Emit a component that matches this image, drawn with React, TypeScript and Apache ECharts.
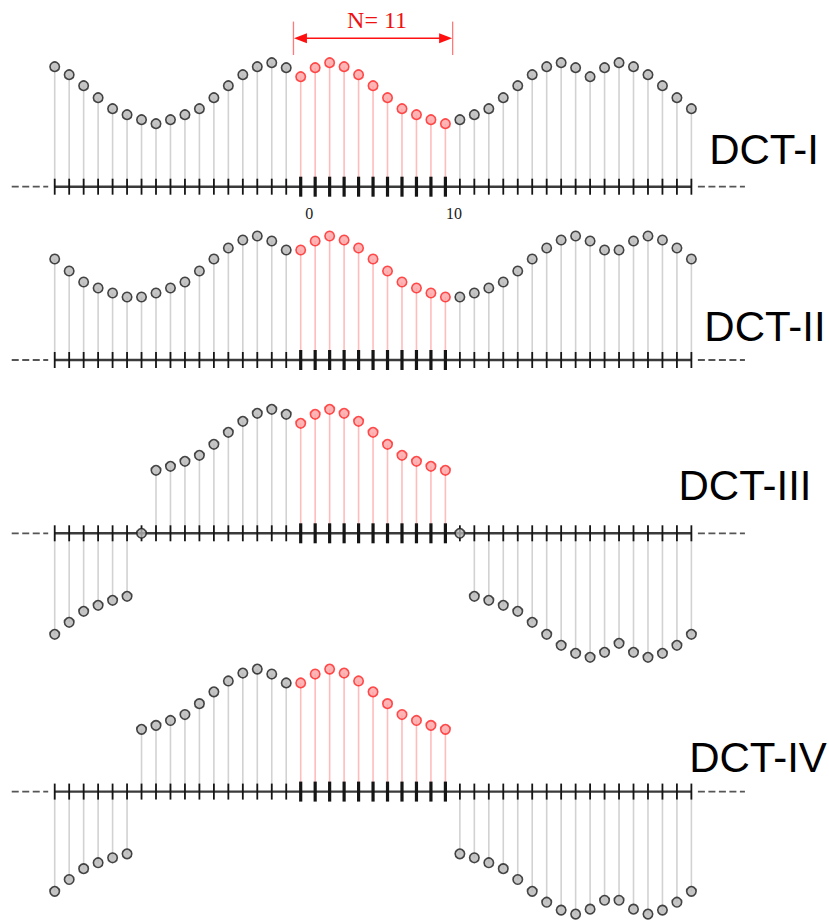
import React, { useEffect, useRef } from "react";
import * as echarts from "echarts";

// sample positions n = -17 … 27 (the original block is n = 0 … 10, N = 11)
const sampleIndex: number[] = Array.from({ length: 45 }, (_, i) => i - 17);
const blockFirst = 0;
const blockLast = 10;
const blockLength = 11;

// symmetric extensions (heights relative to each axis)
const dctI = [
  1.2, 1.12, 1.01, 0.89, 0.78, 0.72, 0.67, 0.63, 0.67, 0.72, 0.78, 0.89, 1.01, 1.12, 1.2, 1.24, 1.19,
  1.1, 1.19, 1.24, 1.2, 1.12, 1.01, 0.89, 0.78, 0.72, 0.67, 0.63,
  0.67, 0.72, 0.78, 0.89, 1.01, 1.12, 1.2, 1.24, 1.19, 1.1, 1.19, 1.24, 1.2, 1.12, 1.01, 0.89, 0.78,
];
const dctII = [
  1.01, 0.89, 0.78, 0.72, 0.67, 0.63, 0.63, 0.67, 0.72, 0.78, 0.89, 1.01, 1.12, 1.2, 1.24, 1.19, 1.1,
  1.1, 1.19, 1.24, 1.2, 1.12, 1.01, 0.89, 0.78, 0.72, 0.67, 0.63,
  0.63, 0.67, 0.72, 0.78, 0.89, 1.01, 1.12, 1.2, 1.24, 1.19, 1.1, 1.1, 1.19, 1.24, 1.2, 1.12, 1.01,
];
const dctIII = [
  -1.01, -0.89, -0.78, -0.72, -0.67, -0.63, 0, 0.63, 0.67, 0.72, 0.78, 0.89, 1.01, 1.12, 1.2, 1.24, 1.19,
  1.1, 1.19, 1.24, 1.2, 1.12, 1.01, 0.89, 0.78, 0.72, 0.67, 0.63,
  0, -0.63, -0.67, -0.72, -0.78, -0.89, -1.01, -1.12, -1.2, -1.24, -1.19, -1.1, -1.19, -1.24, -1.2, -1.12, -1.01,
];
const dctIV = [
  -1.01, -0.89, -0.78, -0.72, -0.67, -0.63, 0.63, 0.67, 0.72, 0.78, 0.89, 1.01, 1.12, 1.2, 1.24, 1.19, 1.1,
  1.1, 1.19, 1.24, 1.2, 1.12, 1.01, 0.89, 0.78, 0.72, 0.67, 0.63,
  -0.63, -0.67, -0.72, -0.78, -0.89, -1.01, -1.12, -1.2, -1.24, -1.19, -1.1, -1.1, -1.19, -1.24, -1.2, -1.12, -1.01,
];
const panelNames = ["DCT-I", "DCT-II", "DCT-III", "DCT-IV"];
const panelValues = [dctI, dctII, dctIII, dctIV];
const tickLabelValues = [0, 10];
const tickLabelTexts = ["0", "10"];

// layout (pixels)
const PX_PER_UNIT = 100;
const layouts = [
  { baseline: 186.7, min: -0.4, max: 1.7, labelX: 764, labelY: 149.5 },
  { baseline: 360, min: -0.4, max: 1.4, labelX: 765, labelY: 326.7 },
  { baseline: 533.3, min: -1.4, max: 1.4, labelX: 745, labelY: 485.5 },
  { baseline: 793.3, min: -1.3, max: 1.4, labelX: 758, labelY: 757.5 },
];
const X_MIN = -20;
const X_MAX = 31;
const GRID_LEFT = 11.3;
const GRID_WIDTH = 737.97;

const RED_STROKE = "#ff2424";
const RED_FILL = "#ffa3a3";
const RED_STEM = "#ffbcbc";
const GRAY_FILL = "#b6b6b6";
const GRAY_STROKE = "#1c1c1c";
const GRAY_STEM = "#d2d2d2";

const isBlock = (n: number) => n >= blockFirst && n <= blockLast;

function buildOption() {
  const series: any[] = [];
  panelValues.forEach((values, gi) => {
    const axisRef = { xAxisIndex: gi, yAxisIndex: gi };
    // stems
    series.push({
      type: "custom",
      ...axisRef,
      z: 1,
      silent: true,
      data: values.map((v, k) => [sampleIndex[k], v, isBlock(sampleIndex[k]) ? 1 : 0]),
      renderItem: (_p: any, api: any) => {
        const n = api.value(0);
        const v = api.value(1);
        const p0 = api.coord([n, 0]);
        const p1 = api.coord([n, v]);
        return {
          type: "line",
          shape: { x1: p0[0], y1: p0[1], x2: p1[0], y2: p1[1] },
          style: { stroke: api.value(2) ? RED_STEM : GRAY_STEM, lineWidth: 1.6 },
        };
      },
    });
    // dashed continuation
    series.push({
      type: "line",
      ...axisRef,
      z: 2,
      silent: true,
      symbol: "none",
      data: [[-19.97, 0], [-17.45, 0]],
      lineStyle: { color: "#555", width: 1.8, type: [7, 3.5] },
    });
    series.push({
      type: "line",
      ...axisRef,
      z: 2,
      silent: true,
      symbol: "none",
      data: [[27.45, 0], [30.7, 0]],
      lineStyle: { color: "#555", width: 1.8, type: [7, 3.5] },
    });
    // solid axis
    series.push({
      type: "line",
      ...axisRef,
      z: 2,
      silent: true,
      symbol: "none",
      data: [[sampleIndex[0], 0], [sampleIndex[sampleIndex.length - 1], 0]],
      lineStyle: { color: "#3a3a3a", width: 2.4 },
    });
    // ticks
    series.push({
      type: "custom",
      ...axisRef,
      z: 3,
      silent: true,
      data: sampleIndex.map((n) => [n, isBlock(n) ? 1 : 0]),
      renderItem: (_p: any, api: any) => {
        const p = api.coord([api.value(0), 0]);
        const bold = api.value(1) === 1;
        const h = bold ? 10 : 8;
        const w = bold ? 3.2 : 1.8;
        return {
          type: "rect",
          shape: { x: p[0] - w / 2, y: p[1] - h, width: w, height: 2 * h },
          style: { fill: "#151515" },
        };
      },
    });
    // sample markers
    series.push({
      type: "scatter",
      ...axisRef,
      z: 4,
      silent: true,
      symbol: "circle",
      symbolSize: 9.5,
      data: values.map((v, k) => {
        const red = isBlock(sampleIndex[k]);
        return {
          value: [sampleIndex[k], v],
          itemStyle: {
            color: red ? RED_FILL : GRAY_FILL,
            borderColor: red ? RED_STROKE : GRAY_STROKE,
            borderWidth: 1.6,
          },
        };
      }),
    });
  });

  // tick labels 0 and 10 on the first panel
  series.push({
    type: "custom",
    xAxisIndex: 0,
    yAxisIndex: 0,
    z: 5,
    silent: true,
    data: tickLabelValues.map((v, i) => [v, i]),
    renderItem: (_p: any, api: any) => {
      const p = api.coord([api.value(0), 0]);
      const txt = tickLabelTexts[api.value(1)];
      return {
        type: "text",
        x: p[0] + 8.5,
        y: p[1] + 26.5,
        style: {
          text: txt,
          font: '16px "Liberation Serif", serif',
          fill: "#1a1a1a",
          align: "center",
          verticalAlign: "middle",
          textAlign: "center",
          textVerticalAlign: "middle",
        },
      };
    },
  });

  // N = 11 bracket
  series.push({
    type: "custom",
    xAxisIndex: 0,
    yAxisIndex: 0,
    z: 5,
    silent: true,
    data: [[blockFirst - 0.5, blockLast + 0.5]],
    renderItem: (_p: any, api: any) => {
      const a = api.coord([api.value(0), 1.484]);
      const b = api.coord([api.value(1), 1.484]);
      const y = a[1];
      return {
        type: "group",
        children: [
          { type: "line", shape: { x1: a[0], y1: y - 16.7, x2: a[0], y2: y + 16.7 }, style: { stroke: "#ff7a7a", lineWidth: 1.3 } },
          { type: "line", shape: { x1: b[0], y1: y - 16.7, x2: b[0], y2: y + 16.7 }, style: { stroke: "#ff7a7a", lineWidth: 1.3 } },
          { type: "line", shape: { x1: a[0] + 8, y1: y, x2: b[0] - 8, y2: y }, style: { stroke: "#ff1010", lineWidth: 1.5 } },
          { type: "polygon", shape: { points: [[a[0] + 0.5, y], [a[0] + 13.5, y - 5], [a[0] + 13.5, y + 5]] }, style: { fill: "#ff1010" } },
          { type: "polygon", shape: { points: [[b[0] - 0.5, y], [b[0] - 13.5, y - 5], [b[0] - 13.5, y + 5]] }, style: { fill: "#ff1010" } },
          {
            type: "text",
            x: (a[0] + b[0]) / 2 + 4,
            y: y - 18,
            style: {
              text: "N= " + blockLength,
              font: '24px "Liberation Serif", serif',
              fill: "#ee1111",
              align: "center",
              verticalAlign: "middle",
              textAlign: "center",
              textVerticalAlign: "middle",
            },
          },
        ],
      };
    },
  });

  return {
    animation: false,
    backgroundColor: "#ffffff",
    grid: layouts.map((l) => ({
      left: GRID_LEFT,
      width: GRID_WIDTH,
      top: l.baseline - l.max * PX_PER_UNIT,
      height: (l.max - l.min) * PX_PER_UNIT,
    })),
    xAxis: layouts.map((_l, i) => ({ type: "value", gridIndex: i, min: X_MIN, max: X_MAX, show: false })),
    yAxis: layouts.map((l, i) => ({ type: "value", gridIndex: i, min: l.min, max: l.max, show: false })),
    graphic: layouts.map((l, i) => ({
      type: "text",
      x: l.labelX,
      y: l.labelY,
      silent: true,
      style: {
        text: panelNames[i],
        font: '42px "Liberation Sans", Arial, sans-serif',
        fill: "#000",
        align: "center",
        verticalAlign: "middle",
        textAlign: "center",
        textVerticalAlign: "middle",
      },
    })),
    series,
  };
}

export default function App() {
  const ref = useRef<HTMLDivElement>(null);
  useEffect(() => {
    if (!ref.current) return;
    const chart = echarts.init(ref.current, null, { renderer: "svg" });
    chart.setOption(buildOption() as any);
    return () => chart.dispose();
  }, []);
  return (
    <div
      ref={ref}
      style={{ position: "absolute", left: 0, top: 0, width: 829, height: 920, background: "#fff" }}
    />
  );
}
